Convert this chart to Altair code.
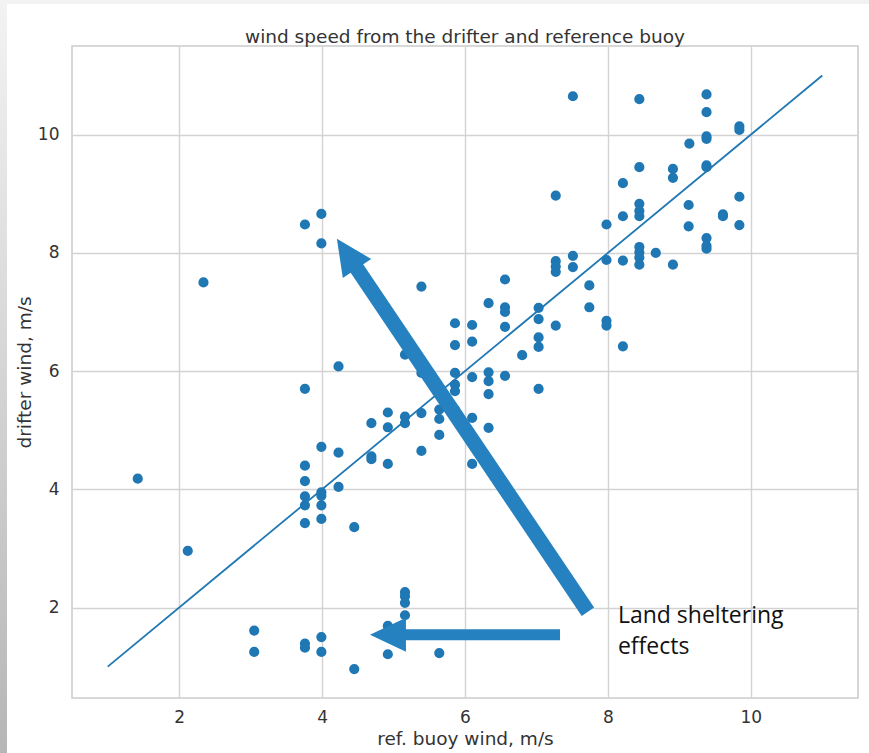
import altair as alt
import pandas as pd

# ---- data ----
ref_buoy = [
    7.51, 8.44, 9.38, 9.38, 9.38, 9.38, 9.84, 9.84, 9.14, 8.44,
    8.91, 8.91, 9.38, 9.38, 8.21, 7.27, 9.84, 8.44, 8.44, 8.44,
    9.13, 8.21, 9.61, 9.61, 7.98, 9.13, 9.84, 9.38, 9.38, 9.38,
    8.44, 8.44, 8.44, 8.44, 8.67, 8.91, 8.21, 7.98, 7.51, 7.51,
    7.27, 7.27, 7.27, 7.74, 7.74, 7.98, 7.98, 8.21,
    6.56, 5.39, 6.33, 6.56, 6.56, 6.56, 7.03, 7.03, 7.03, 7.03,
    7.27, 5.86, 6.10, 5.86, 6.10, 6.80, 4.23, 5.16, 5.39, 5.39,
    5.86, 6.10, 6.33, 6.56, 7.03, 3.76, 5.86, 5.86, 6.33, 6.33,
    5.64, 5.64, 5.86, 5.64, 6.10, 6.33, 5.39, 5.16, 5.16, 4.92,
    4.92, 4.69, 4.69, 4.69, 4.92, 5.39, 6.10,
    3.99, 4.23, 3.76, 3.76, 3.99, 3.99, 3.76, 4.23, 3.76, 3.99,
    3.76, 3.99, 4.45, 1.42, 2.12, 2.34, 3.99, 3.76, 3.99,
    3.05, 3.05, 3.76, 3.76, 3.99, 3.99, 4.45, 5.16, 5.16, 5.16,
    5.16, 4.92, 4.92, 5.64,
]
drifter = [
    10.65, 10.60, 10.68, 10.38, 9.97, 9.93, 10.14, 10.08, 9.85, 9.45,
    9.42, 9.27, 9.48, 9.45, 9.18, 8.97, 8.95, 8.83, 8.71, 8.62,
    8.81, 8.62, 8.65, 8.62, 8.48, 8.45, 8.47, 8.25, 8.12, 8.07,
    8.10, 8.01, 7.92, 7.80, 8.00, 7.80, 7.87, 7.88, 7.95, 7.76,
    7.86, 7.77, 7.68, 7.45, 7.08, 6.85, 6.77, 6.42,
    7.55, 7.43, 7.15, 7.08, 7.00, 6.75, 7.07, 6.88, 6.57, 6.41,
    6.77, 6.81, 6.78, 6.44, 6.50, 6.27, 6.08, 6.28, 6.15, 5.97,
    5.97, 5.90, 5.98, 5.92, 5.70, 5.70, 5.77, 5.66, 5.83, 5.61,
    5.35, 5.19, 5.35, 4.92, 5.21, 5.04, 5.29, 5.23, 5.12, 5.30,
    5.05, 5.12, 4.56, 4.51, 4.43, 4.65, 4.43,
    4.72, 4.62, 4.40, 4.14, 3.95, 3.89, 3.88, 4.04, 3.73, 3.73,
    3.43, 3.50, 3.36, 4.18, 2.96, 7.50, 8.66, 8.48, 8.16,
    1.61, 1.25, 1.39, 1.32, 1.50, 1.25, 0.96, 2.26, 2.19, 2.08,
    1.87, 1.69, 1.21, 1.23,
]

one_to_one_x = [1, 11]
one_to_one_y = [1, 11]

x_ticks = [2, 4, 6, 8, 10]
y_ticks = [2, 4, 6, 8, 10]

chart_title = ["wind speed from the drifter and reference buoy"]

# annotation arrows (data coordinates): tail -> neck (shaft), tip (head)
arrow_tail_x = [7.72, 7.33]
arrow_tail_y = [1.93, 1.54]
arrow_neck_x = [4.44, 5.09]
arrow_neck_y = [7.82, 1.54]
arrow_tip_x = [4.207, 4.67]
arrow_tip_y = [8.24, 1.54]
arrow_angle = [326, 270]
arrow_width = [15, 11]

note_text = ["Land sheltering\neffects"]
note_x = [8.14]
note_y = [1.74]

# ---- tables ----
pts = pd.DataFrame({"x": ref_buoy, "y": drifter})
line_df = pd.DataFrame({"x": one_to_one_x, "y": one_to_one_y})
arrows = pd.DataFrame({
    "x": arrow_tail_x, "y": arrow_tail_y,
    "x2": arrow_neck_x, "y2": arrow_neck_y,
    "tx": arrow_tip_x, "ty": arrow_tip_y,
    "angle": arrow_angle, "w": arrow_width,
})
note_df = pd.DataFrame({"x": note_x, "y": note_y, "t": note_text})
title_df = pd.DataFrame({"t": chart_title})

TXT = "#333333"
GRID = "#d3d3d3"
BLUE = "#1f77b4"
ARROW = "#2581bf"

xscale = alt.Scale(domain=[0.5, 11.5], nice=False, zero=False)
yscale = alt.Scale(domain=[0.47, 11.5], nice=False, zero=False)

xaxis = alt.Axis(values=x_ticks, title="ref. buoy wind, m/s", grid=True,
                 gridColor=GRID, gridWidth=1.4, domain=False, ticks=False,
                 labelPadding=11, labelFontSize=17, labelFont="DejaVu Sans",
                 labelColor=TXT, titleFontSize=18.5, titleFont="DejaVu Sans",
                 titleFontWeight="normal", titleColor=TXT, titlePadding=4)
yaxis = alt.Axis(values=y_ticks, title="drifter wind, m/s", grid=True,
                 gridColor=GRID, gridWidth=1.4, domain=False, ticks=False,
                 labelPadding=13, labelFontSize=17, labelFont="DejaVu Sans",
                 labelColor=TXT, titleFontSize=18.5, titleFont="DejaVu Sans",
                 titleFontWeight="normal", titleColor=TXT, titlePadding=3)


def X(field):
    return alt.X(f"{field}:Q", scale=xscale, axis=xaxis)


def Y(field):
    return alt.Y(f"{field}:Q", scale=yscale, axis=yaxis)


dummy = pd.DataFrame({"k": [0]})

left_strip = alt.Chart(dummy).mark_rect(
    color={"gradient": "linear", "x1": 0, "x2": 0, "y1": 0, "y2": 1,
           "stops": [{"offset": 0, "color": "#f3f3f3"},
                     {"offset": 1, "color": "#b6b6b6"}]}
).encode(x=alt.value(-72), x2=alt.value(-65), y=alt.value(-46), y2=alt.value(707))

top_strip = alt.Chart(dummy).mark_rect(color="#f2f2f2").encode(
    x=alt.value(-65), x2=alt.value(797), y=alt.value(-46), y2=alt.value(-42))

title = alt.Chart(title_df).mark_text(
    align="center", baseline="alphabetic", font="DejaVu Sans", fontSize=18.5,
    color=TXT
).encode(x=alt.value(393), y=alt.value(-3), text="t:N")

points = alt.Chart(pts).mark_circle(size=104, color=BLUE, opacity=1).encode(
    x=X("x"), y=Y("y"))

line = alt.Chart(line_df).mark_line(color=BLUE, strokeWidth=1.8).encode(
    x=X("x"), y=Y("y"))

shafts = alt.Chart(arrows).mark_rule(color=ARROW, strokeCap="butt").encode(
    x=X("x"), y=Y("y"), x2="x2:Q", y2="y2:Q",
    strokeWidth=alt.StrokeWidth("w:Q", scale=None, legend=None))

heads = alt.Chart(arrows).mark_point(
    shape="M0,0L0.95,2L-0.95,2Z", filled=True, opacity=1, color=ARROW,
    size=1296, strokeWidth=0
).encode(x=X("tx"), y=Y("ty"),
         angle=alt.Angle("angle:Q", scale=None))

note = alt.Chart(note_df).mark_text(
    align="left", baseline="alphabetic", font="Open Sans", fontSize=23,
    lineBreak="\n", lineHeight=31, color="#111111"
).encode(x=X("x"), y=Y("y"), text="t:N")

chart = alt.layer(points, line, shafts, heads, note, title, left_strip, top_strip).properties(
    width=786, height=652,
    autosize=alt.AutoSizeParams(type="none"),
    padding={"left": 72, "top": 46, "right": 11, "bottom": 55},
    background="white",
).configure_view(stroke="#cccccc", strokeWidth=1.6)

chart.save("out.html", embed_options={"renderer": "svg", "actions": False})
